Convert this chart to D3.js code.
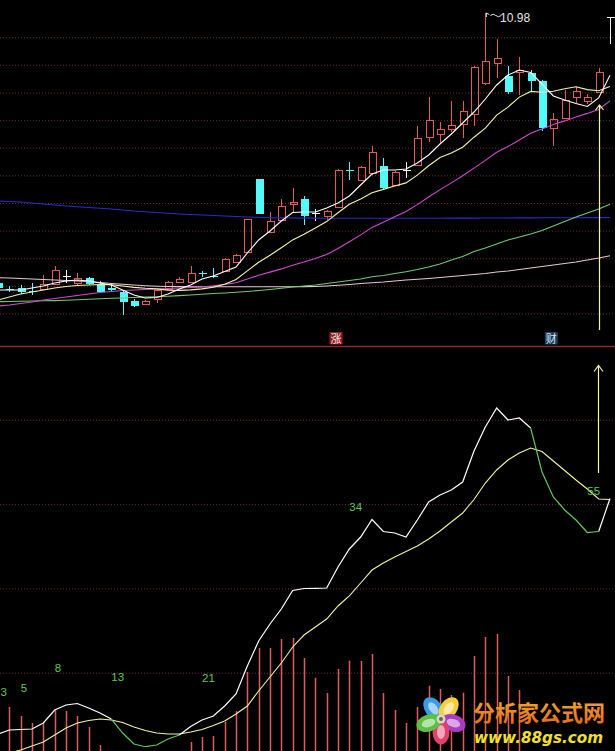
<!DOCTYPE html>
<html>
<head>
<meta charset="utf-8">
<script src="https://cdn.jsdelivr.net/npm/d3@7"></script>
<style>
  html, body { margin: 0; padding: 0; background: #000; overflow: hidden; }
  svg { display: block; }
</style>
</head>
<body>
<svg id="chart" width="615" height="751"></svg>
<script>
// ---- daily bars (price, yuan) ----
const opens = [8.28,8.22,8.23,8.20,8.22,8.27,8.35,8.28,8.33,8.26,
  8.23,8.19,8.10,8.07,8.12,8.22,8.29,8.29,8.38,8.355,
  8.40,8.49,8.59,9.32,8.79,8.91,9.07,9.12,8.98,8.95,
  9.04,9.415,9.31,9.38,9.45,9.26,9.41,9.46,9.74,9.77,
  9.82,9.87,9.97,10.28,10.48,10.35,10.39,10.38,10.30,9.83,
  9.93,10.14,10.10,10.19,10.94];
const highs = [8.30,8.25,8.26,8.28,8.36,8.45,8.41,8.38,8.34,8.30,
  8.28,8.21,8.12,8.11,8.22,8.30,8.34,8.45,8.40,8.43,
  8.53,8.57,8.92,9.32,8.99,9.12,9.23,9.15,9.02,9.01,
  9.42,9.49,9.45,9.65,9.53,9.40,9.49,9.85,10.14,9.89,
  10.10,10.10,10.45,10.98,10.72,10.45,10.54,10.41,10.31,9.98,
  10.21,10.24,10.17,10.43,10.94];
const lows = [8.21,8.19,8.17,8.16,8.22,8.27,8.28,8.26,8.26,8.18,
  8.20,7.96,8.04,8.06,8.08,8.21,8.28,8.29,8.34,8.33,
  8.40,8.48,8.59,8.97,8.78,8.90,8.98,8.86,8.90,8.91,
  9.04,9.31,9.31,9.36,9.22,9.25,9.33,9.45,9.69,9.68,
  9.79,9.73,9.85,10.26,10.33,10.17,10.16,10.19,9.80,9.65,
  9.92,10.08,10.07,10.18,10.67];
const closes = [8.23,8.215,8.19,8.195,8.27,8.41,8.35,8.33,8.27,8.19,
  8.21,8.09,8.05,8.10,8.21,8.29,8.32,8.38,8.375,8.35,
  8.52,8.56,8.92,8.97,8.90,9.05,9.09,8.95,8.98,9.00,
  9.41,9.41,9.44,9.59,9.23,9.39,9.41,9.73,9.91,9.82,
  9.86,10.00,10.44,10.50,10.53,10.19,10.41,10.30,9.83,9.92,
  10.11,10.20,10.14,10.39,10.94];

// ---- moving averages ----
const ma5 = [8.21,8.21,8.21,8.23,8.25,8.28,8.30,8.31,8.30,8.28,
  8.26,8.21,8.16,8.13,8.135,8.17,8.22,8.26,8.32,8.35,
  8.395,8.44,8.58,8.71,8.80,8.90,8.985,8.99,8.99,9.03,
  9.08,9.15,9.26,9.37,9.41,9.41,9.42,9.48,9.56,9.67,
  9.77,9.88,9.99,10.12,10.26,10.36,10.41,10.385,10.27,10.15,
  10.11,10.075,10.045,10.13,10.357];
const ma10 = [8.11,8.14,8.17,8.19,8.21,8.23,8.245,8.255,8.26,8.265,
  8.263,8.25,8.236,8.227,8.221,8.209,8.206,8.211,8.221,8.237,
  8.268,8.315,8.401,8.488,8.557,8.633,8.711,8.768,8.829,8.894,
  8.983,9.068,9.121,9.183,9.216,9.25,9.281,9.359,9.452,9.534,
  9.579,9.638,9.738,9.829,9.959,10.039,10.139,10.196,10.188,10.198,
  10.223,10.243,10.214,10.202,10.244];
const ma20 = [8.05,8.06,8.075,8.09,8.11,8.125,8.14,8.155,8.17,8.185,
  8.195,8.205,8.21,8.215,8.22,8.225,8.23,8.235,8.24,8.251,
  8.266,8.283,8.319,8.358,8.389,8.421,8.458,8.49,8.525,8.566,
  8.626,8.692,8.761,8.836,8.887,8.942,8.996,9.064,9.14,9.214,
  9.281,9.353,9.429,9.506,9.587,9.644,9.71,9.777,9.82,9.866,
  9.901,9.941,9.976,10.016,10.101];
const ma60 = [8.093,8.095,8.098,8.10,8.102,8.104,8.108,8.112,8.117,8.123,
  8.127,8.13,8.135,8.14,8.143,8.148,8.154,8.16,8.168,8.175,
  8.18,8.187,8.195,8.205,8.215,8.227,8.24,8.25,8.26,8.275,
  8.29,8.305,8.32,8.343,8.355,8.375,8.393,8.415,8.44,8.47,
  8.51,8.545,8.595,8.63,8.67,8.71,8.74,8.77,8.805,8.85,
  8.895,8.94,8.98,9.02,9.067];
const ma120 = [8.333,8.33,8.325,8.32,8.315,8.31,8.305,8.30,8.295,8.285,
  8.275,8.267,8.26,8.253,8.248,8.245,8.244,8.243,8.243,8.242,
  8.242,8.242,8.242,8.242,8.242,8.243,8.243,8.244,8.245,8.25,
  8.257,8.265,8.275,8.283,8.29,8.30,8.31,8.317,8.325,8.335,
  8.345,8.355,8.365,8.375,8.39,8.40,8.415,8.43,8.445,8.46,
  8.475,8.49,8.51,8.53,8.553];
const ma250 = [9.10,9.095,9.09,9.08,9.07,9.06,9.05,9.042,9.035,9.027,
  9.02,9.01,9.00,8.993,8.985,8.977,8.97,8.965,8.96,8.955,
  8.95,8.945,8.94,8.937,8.933,8.931,8.93,8.929,8.929,8.928,
  8.928,8.928,8.927,8.927,8.927,8.927,8.927,8.928,8.928,8.928,
  8.929,8.929,8.929,8.930,8.930,8.930,8.931,8.931,8.932,8.932,
  8.933,8.933,8.934,8.934,8.935];

// ---- oscillator panel ----
const kLine = [5.58,6.52,6.64,6.76,8.19,11.27,12.46,12.81,11.74,10.56,
  9.13,5.81,3.20,2.56,2.97,4.39,5.34,7.35,8.90,9.85,
  12.22,15.07,21.71,27.64,31.67,35.23,39.62,40.09,40.14,40.21,
  45.20,49.47,52.31,56.46,53.62,53.26,52.31,56.35,60.62,62.28,
  63.46,65.36,72.72,78.41,82.92,80.07,80.55,78.17,67.73,61.80,
  58.72,56.35,53.38,53.62,61.45];
const dLine = [0.36,1.07,1.78,2.73,3.68,5.34,7.00,8.19,8.78,9.13,
  8.90,8.30,7.24,6.41,5.81,5.58,5.58,6.05,6.64,7.59,
  8.66,10.32,12.22,15.78,19.10,22.42,26.22,29.06,30.96,32.86,
  35.94,38.32,41.40,44.48,46.14,47.56,48.87,50.18,51.84,53.74,
  55.87,58.01,61.21,65.12,68.21,70.58,72.24,73.43,72.60,70.34,
  68.09,65.84,63.70,61.33,61.21];
const barValues = [12,11.98,9.85,8.19,8.19,11.51,11.03,9.85,7.24,2.97,
  0,0,0,0,0,0,0,3.68,4.86,5.10,
  8.42,11.03,20.28,25.98,25.98,28.11,28.35,23.61,18.93,15.30,
  21.00,22.97,22.89,24.56,15.30,11.27,8.19,12.0,17.03,16.25,
  14.83,15.37,24.08,28.59,29.30,19.34,16.01,0,0,0,
  0,0,0,0,0];

// Fibonacci day counts and the bars they sit on
const fibDays = [3, 5, 8, 13, 21, 34, 55];
const fibIndex = [0, 2, 5, 10, 18, 31, 52];

// signal markers
const signalIndex = [30, 49];
const signalText = ["涨", "财"];
const arrowIndex = 53;
const arrowRange = [67.5, 93];
const highIndex = 43;

const W = 615, H = 751;
const svg = d3.select("#chart");

const x = d3.scaleLinear().domain([0, 54]).range([-2, 610]);
const yP = d3.scaleLinear().domain([11.11, 7.65]).range([0, 346]);
const yI = d3.scaleLinear().domain([0, 100]).range([757.5, 336]);

svg.append("rect").attr("width", W).attr("height", H).attr("fill", "#000");

const defs = svg.append("defs");
defs.append("clipPath").attr("id", "clipTop")
  .append("rect").attr("x", 0).attr("y", 0).attr("width", W).attr("height", 346);
defs.append("clipPath").attr("id", "clipBot")
  .append("rect").attr("x", 0).attr("y", 347).attr("width", W).attr("height", H - 347);

// ---- dotted grid ----
const gridColor = "#6e2a2a";
const grid = svg.append("g").attr("stroke", gridColor).attr("stroke-dasharray", "1 2");
d3.range(11).map(k => 37.7 + k * 27.63).forEach(gy => {
  grid.append("line").attr("x1", 0).attr("x2", W).attr("y1", gy).attr("y2", gy);
});
[20, 40, 60, 80].forEach(v => {
  grid.append("line").attr("x1", 0).attr("x2", W).attr("y1", yI(v)).attr("y2", yI(v));
});

// panel separator
svg.append("line").attr("x1", 0).attr("x2", W).attr("y1", 346.5).attr("y2", 346.5)
  .attr("stroke", "#8c2c2c").attr("stroke-width", 1.6);

// ---- price panel ----
const pricePanel = svg.append("g").attr("clip-path", "url(#clipTop)");
const RED = "#e25a5a", CYAN = "#54fafa", DOJI = "#f4f4f4";
const halfW = 4;

const candles = pricePanel.append("g").attr("shape-rendering", "crispEdges");
opens.forEach((o, i) => {
  const c = closes[i], h = highs[i], l = lows[i];
  const cx = Math.round(x(i)) + 0.5;
  const g = candles.append("g");
  if (c > o) {
    const yt = yP(c), yb = yP(o);
    g.append("rect").attr("x", cx - halfW + 0.5).attr("y", yt)
      .attr("width", 2 * halfW - 1).attr("height", Math.max(1, yb - yt))
      .attr("fill", "none").attr("stroke", RED).attr("stroke-width", 1);
    g.append("line").attr("x1", cx).attr("x2", cx).attr("y1", yP(h)).attr("y2", yt).attr("stroke", RED);
    g.append("line").attr("x1", cx).attr("x2", cx).attr("y1", yb).attr("y2", yP(l)).attr("stroke", RED);
  } else if (c < o) {
    const yt = yP(o), yb = yP(c);
    g.append("line").attr("x1", cx).attr("x2", cx).attr("y1", yP(h)).attr("y2", yP(l)).attr("stroke", CYAN);
    g.append("rect").attr("x", cx - halfW).attr("y", yt)
      .attr("width", 2 * halfW).attr("height", Math.max(1.2, yb - yt)).attr("fill", CYAN);
  } else {
    g.append("line").attr("x1", cx).attr("x2", cx).attr("y1", yP(h)).attr("y2", yP(l)).attr("stroke", DOJI);
    g.append("line").attr("x1", cx - halfW).attr("x2", cx + halfW).attr("y1", yP(o)).attr("y2", yP(o)).attr("stroke", DOJI);
  }
});

const priceLine = d3.line().x((d, i) => x(i)).y(d => yP(d));
const maSeries = [
  { data: ma250, color: "#2a2ad2" },
  { data: ma120, color: "#e2c8d6" },
  { data: ma60, color: "#72c872" },
  { data: ma20, color: "#cc4ccc" },
  { data: ma10, color: "#f4f4a8" },
  { data: ma5, color: "#ffffff" }
];
maSeries.forEach(s => {
  pricePanel.append("path").attr("d", priceLine(s.data)).attr("fill", "none")
    .attr("stroke", s.color).attr("stroke-width", 1.1);
});

// highest price marker
{
  const hx = x(highIndex), hy = yP(highs[highIndex]);
  pricePanel.append("path")
    .attr("d", `M${hx + 1},${hy + 4} L${hx + 1},${hy} L${hx + 4},${hy + 1.5} M${hx + 5},${hy + 2.5} q3,-2.5 5.5,0 t5.5,0`)
    .attr("fill", "none").attr("stroke", "#e6e6e6").attr("stroke-width", 1);
  pricePanel.append("text").attr("x", hx + 14.7).attr("y", hy + 9)
    .attr("font-family", "Liberation Sans, Arial, sans-serif").attr("font-size", 12)
    .attr("fill", "#e6e6e6").text(highs[highIndex].toFixed(2));
}

// rising arrow in price panel
{
  const ax = Math.round(x(arrowIndex)) + 0.5;
  const aTop = yP(lows[arrowIndex]) + 12, aBot = 330;
  pricePanel.append("line").attr("x1", ax).attr("x2", ax).attr("y1", aBot).attr("y2", aTop)
    .attr("stroke", "#f6f6a6").attr("stroke-width", 1.2);
  pricePanel.append("path").attr("d", `M${ax - 4},${aTop + 5} L${ax},${aTop} L${ax + 4},${aTop + 5}`)
    .attr("fill", "none").attr("stroke", "#f6f6a6").attr("stroke-width", 1.2);
}

// signal tags
const tagFill = ["#8e1f24", "#1d3d58"];
const tagText = ["#ffe8e8", "#cfeaf6"];
signalIndex.forEach((si, k) => {
  const tx = x(si) - 2;
  svg.append("rect").attr("x", tx - 6.5).attr("y", 332).attr("width", 13).attr("height", 12.5)
    .attr("fill", tagFill[k]);
  svg.append("text").attr("x", tx).attr("y", 342.5).attr("text-anchor", "middle")
    .attr("font-family", "Noto Sans CJK SC, sans-serif").attr("font-size", 11)
    .attr("fill", tagText[k]).text(signalText[k]);
});

// ---- oscillator panel ----
const oscPanel = svg.append("g").attr("clip-path", "url(#clipBot)");

oscPanel.append("g").selectAll("line").data(barValues.map((v, i) => ({ v, i })).filter(d => d.v > 0))
  .join("line")
  .attr("x1", d => Math.round(x(d.i)) + 0.5).attr("x2", d => Math.round(x(d.i)) + 0.5)
  .attr("y1", yI(0)).attr("y2", d => yI(d.v))
  .attr("stroke", "#dc5c5c").attr("stroke-width", 1.5);

const oscLine = d3.line().x(d => x(d.i)).y(d => yI(d.v));
oscPanel.append("path").attr("d", oscLine(dLine.map((v, i) => ({ v, i }))))
  .attr("fill", "none").attr("stroke", "#f2f2a4").attr("stroke-width", 1.1);

// K line: white while above D, green while below
{
  let run = [{ v: kLine[0], i: 0 }];
  let runColor = null;
  const flush = () => {
    if (run.length > 1) {
      oscPanel.append("path").attr("d", oscLine(run)).attr("fill", "none")
        .attr("stroke", runColor).attr("stroke-width", 1.2);
    }
  };
  for (let i = 1; i < kLine.length; i++) {
    const col = kLine[i] >= dLine[i] ? "#ffffff" : "#62c462";
    if (runColor !== null && col !== runColor) {
      flush();
      run = [{ v: kLine[i - 1], i: i - 1 }];
    }
    runColor = col;
    run.push({ v: kLine[i], i });
  }
  flush();
}

// Fibonacci day counts (kept inside the left edge)
oscPanel.append("g").selectAll("text").data(fibDays.map((n, k) => ({ n, i: fibIndex[k] })))
  .join("text")
  .attr("x", d => Math.max(0.5, x(d.i))).attr("y", d => yI(kLine[d.i] + 9))
  .attr("font-family", "Liberation Sans, Arial, sans-serif").attr("font-size", 11.5)
  .attr("fill", "#5cc85c").text(d => d.n);

// rising arrow in oscillator panel
{
  const ax = Math.round(x(arrowIndex)) - 0.5;
  const aTop = yI(arrowRange[1]), aBot = yI(arrowRange[0]);
  oscPanel.append("line").attr("x1", ax).attr("x2", ax).attr("y1", aBot).attr("y2", aTop)
    .attr("stroke", "#f6f6a6").attr("stroke-width", 1.2);
  oscPanel.append("path").attr("d", `M${ax - 4.5},${aTop + 6} L${ax},${aTop} L${ax + 4.5},${aTop + 6}`)
    .attr("fill", "none").attr("stroke", "#f6f6a6").attr("stroke-width", 1.2);
}

// ---- site badge ----
{
  const badge = svg.append("g");
  const grad = defs.append("linearGradient").attr("id", "badgeText")
    .attr("x1", 0).attr("y1", 0).attr("x2", 0).attr("y2", 1);
  grad.append("stop").attr("offset", "0%").attr("stop-color", "#f7b030");
  grad.append("stop").attr("offset", "100%").attr("stop-color", "#e0661a");

  const fx = 441, fy = 719;
  const petals = [
    { a: -126, c: "#3a9be6" },
    { a: -54, c: "#f2d03c" },
    { a: 18, c: "#a93cc4" },
    { a: 90, c: "#e2406e" },
    { a: 162, c: "#5dbf46" }
  ];
  petals.forEach(p => {
    const pg = badge.append("g").attr("transform", `translate(${fx},${fy}) rotate(${p.a})`);
    pg.append("ellipse").attr("cx", 13).attr("cy", 0).attr("rx", 12.5).attr("ry", 8.5).attr("fill", p.c);
    pg.append("ellipse").attr("cx", 13).attr("cy", 0).attr("rx", 7).attr("ry", 4)
      .attr("fill", "#ffffff").attr("opacity", 0.55);
  });
  badge.append("circle").attr("cx", fx).attr("cy", fy).attr("r", 4.5).attr("fill", "#d8d8c8");
  badge.append("circle").attr("cx", fx).attr("cy", fy).attr("r", 2).attr("fill", "#6a6a50");

  badge.append("text").attr("x", 473).attr("y", 721)
    .attr("font-family", "Noto Sans CJK SC, sans-serif").attr("font-weight", 700)
    .attr("font-size", 22).attr("textLength", 132).attr("lengthAdjust", "spacingAndGlyphs")
    .attr("fill", "url(#badgeText)").text("分析家公式网");
  badge.append("text").attr("x", 474).attr("y", 742.5)
    .attr("font-family", "DejaVu Sans, sans-serif").attr("font-weight", 700).attr("font-style", "italic")
    .attr("font-size", 16).attr("textLength", 129).attr("lengthAdjust", "spacingAndGlyphs")
    .attr("fill", "#f0e030").text("www.88gs.com");
}
</script>
</body>
</html>
